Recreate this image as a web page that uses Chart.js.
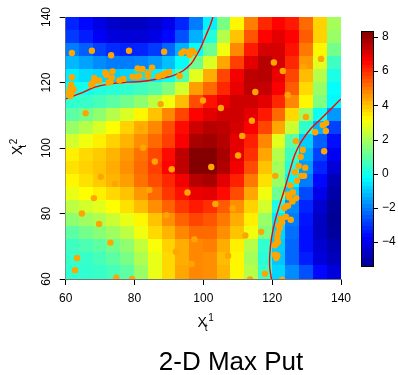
<!DOCTYPE html>
<html>
<head>
<meta charset="utf-8">
<script src="https://cdn.jsdelivr.net/npm/chart.js@4.4.0/dist/chart.umd.min.js"></script>
<style>
  html, body { margin: 0; padding: 0; background: #fff; }
  #wrap { width: 398px; height: 375px; }
</style>
</head>
<body>
<div id="wrap"><canvas id="chart" width="398" height="375"></canvas></div>
<script>
// grid cell centres (4 units wide), rows listed top to bottom
const gridX = [62, 66, 70, 74, 78, 82, 86, 90, 94, 98, 102, 106, 110, 114, 118, 122, 126, 130, 134, 138]
const gridY = [138, 134, 130, 126, 122, 118, 114, 110, 106, 102, 98, 94, 90, 86, 82, 78, 74, 70, 66, 62]

const row138 = [-3.2, -3.6, -4.1, -4.5, -4.6, -4.6, -4.4, -4.0, -3.2, -2.0, -0.4, 1.4, 3.3, 4.9, 6.1, 6.6, 6.3, 5.2, 3.8, 2.0]
const row134 = [-2.9, -3.3, -3.8, -4.2, -4.3, -4.3, -4.1, -3.6, -2.6, -1.3, 0.2, 2.2, 4.0, 5.5, 6.6, 7.0, 6.6, 5.4, 3.8, 1.8]
const row130 = [-2.0, -2.4, -2.8, -3.1, -3.2, -3.2, -2.9, -2.3, -1.3, -0.2, 1.2, 3.0, 4.8, 6.3, 7.2, 7.2, 6.4, 5.0, 3.3, 1.3]
const row126 = [-1.2, -1.5, -1.8, -2.0, -2.0, -1.9, -1.6, -1.1, -0.2, 1.2, 2.7, 4.4, 5.8, 7.0, 7.6, 7.2, 6.1, 4.6, 2.8, 0.6]
const row122 = [-0.5, -0.7, -0.8, -0.9, -0.8, -0.6, -0.4, -0.1, 0.8, 2.8, 4.3, 5.7, 6.8, 7.5, 7.6, 6.9, 5.7, 4.1, 2.2, 0.1]
const row118 = [-0.1, 0.0, 0.2, 0.3, 0.4, 0.6, 0.9, 1.5, 2.6, 4.5, 5.2, 6.1, 6.9, 7.5, 7.4, 6.7, 5.4, 3.7, 1.8, -0.2]
const row114 = [0.4, 0.5, 0.7, 1.0, 1.3, 1.7, 2.3, 3.0, 4.1, 5.6, 6.4, 6.9, 7.3, 7.3, 7.0, 6.1, 4.8, 3.3, 1.5, -0.3]
const row110 = [1.0, 1.3, 1.7, 2.2, 2.7, 3.3, 4.0, 4.8, 5.7, 6.6, 7.0, 7.3, 7.3, 7.0, 6.3, 5.2, 3.7, 1.8, -0.1, -1.6]
const row106 = [1.8, 2.2, 2.7, 3.2, 3.8, 4.3, 4.8, 5.6, 6.5, 7.3, 7.6, 7.5, 7.2, 6.7, 5.7, 4.4, 2.5, 0.4, -1.3, -2.8]
const row102 = [2.6, 3.0, 3.4, 3.8, 4.2, 4.7, 5.2, 5.8, 6.7, 7.8, 7.9, 7.6, 7.0, 6.2, 4.8, 2.8, 1.0, -0.9, -2.4, -3.5]
const row98 = [3.4, 3.7, 3.9, 4.2, 4.6, 5.1, 5.7, 6.5, 7.5, 8.3, 8.3, 7.8, 7.0, 6.0, 4.4, 2.2, 0.6, -1.3, -2.8, -3.8]
const row94 = [3.6, 3.8, 4.0, 4.3, 4.7, 5.2, 5.8, 6.6, 7.5, 8.3, 8.3, 7.7, 6.8, 5.6, 4.0, 2.0, 0.2, -1.6, -3.2, -4.3]
const row90 = [3.3, 3.6, 3.9, 4.2, 4.5, 5.1, 5.6, 6.1, 6.8, 7.6, 7.8, 7.0, 6.2, 5.0, 3.6, 1.8, -0.3, -2.0, -3.6, -4.8]
const row86 = [2.9, 3.2, 3.4, 3.7, 4.0, 4.6, 5.2, 5.9, 6.4, 6.9, 7.0, 6.5, 5.6, 4.4, 3.0, 1.2, -1.0, -2.7, -4.0, -5.0]
const row82 = [2.3, 2.6, 2.8, 3.2, 3.6, 4.1, 4.7, 5.3, 5.9, 6.3, 6.0, 5.4, 4.7, 3.8, 2.6, 0.1, -1.8, -3.2, -4.4, -5.2]
const row78 = [1.7, 1.9, 2.1, 2.5, 2.9, 3.3, 4.0, 4.7, 5.3, 5.7, 5.5, 5.0, 4.3, 3.4, 1.8, -0.5, -2.0, -3.4, -4.6, -5.3]
const row74 = [1.0, 1.3, 1.6, 1.9, 2.3, 3.0, 3.7, 4.2, 4.8, 5.2, 5.2, 4.7, 4.0, 3.0, 1.5, -0.8, -2.2, -3.5, -4.6, -5.2]
const row70 = [0.6, 0.8, 1.0, 1.3, 1.7, 2.4, 3.1, 3.8, 4.3, 4.8, 4.9, 4.3, 3.4, 2.2, 0.4, -0.9, -2.3, -3.5, -4.4, -4.9]
const row66 = [0.5, 0.5, 0.7, 1.0, 1.4, 2.1, 2.9, 3.7, 4.3, 4.8, 4.7, 4.1, 3.3, 2.0, 0.3, -1.0, -2.3, -3.3, -4.2, -4.7]
const row62 = [0.4, 0.4, 0.5, 0.7, 1.0, 1.8, 2.9, 3.7, 4.4, 4.8, 4.7, 4.2, 3.3, 2.2, 0.5, -0.8, -1.8, -2.6, -3.6, -4.2]
const fieldRows = [row138, row134, row130, row126, row122, row118, row114, row110, row106, row102,
                   row98, row94, row90, row86, row82, row78, row74, row70, row66, row62]

// simulated paths (orange dots)
const obsX = [61.8, 67.6, 73.2, 78.4, 88.6, 93.6, 94.3, 95.8, 96.8, 96.0, 97.2,
  61.8, 61.6, 61.3, 61.1, 61.8, 62.3, 60.9, 61.6, 61.3,
  67.4, 67.8, 68.3, 68.6, 69.7, 71.5, 71.9, 73.6, 73.4, 72.4, 73.0, 75.6, 76.8, 79.4, 80.9, 82.3, 80.8, 81.5, 83.9, 85.1, 83.9, 86.8, 87.4, 88.2, 88.9, 90.1, 93.1,
  87.6, 65.8, 81.8, 82.5, 85.9, 90.8, 70.2, 74.3, 84.3, 95.4, 68.2, 64.7, 89.3, 69.7, 73.0, 92.0, 97.4, 63.3, 62.7, 96.6, 74.7, 79.3,
  120.5, 123.1, 129.1, 134.2, 115.1, 124.5, 99.9, 105.1, 114.1, 129.8, 111.3, 110.1, 102.3,
  134.7, 135.7, 135.6, 132.5, 126.9, 135.1, 128.9, 128.3, 127.7, 129.6, 126.6, 128.5, 129.3, 120.9, 127.2, 125.3, 126.0, 124.6, 125.0, 127.0,
  125.9, 124.1, 124.6, 123.5, 124.0, 125.4, 122.5, 122.9, 121.9, 122.2, 121.7, 121.5, 121.3, 121.7, 120.8, 120.8, 121.5, 121.2, 117.9, 122.9,
  103.5, 108.5, 112.2, 116.8, 107.2, 113.6]
const obsY = [129.0, 129.7, 128.3, 129.7, 129.4, 128.9, 129.5, 129.4, 129.7, 128.4, 129.2,
  121.6, 119.3, 118.2, 117.2, 117.5, 117.9, 116.4, 116.7, 115.9,
  119.4, 119.8, 121.4, 120.6, 120.6, 123.0, 122.3, 123.4, 121.5, 120.0, 120.2, 120.7, 121.1, 121.8, 124.3, 124.1, 121.8, 122.0, 122.8, 124.5, 121.9, 121.8, 122.1, 122.3, 122.8, 123.2, 122.0,
  113.4, 110.6, 106.0, 100.1, 95.9, 93.5, 91.2, 89.1, 87.2, 86.4, 84.7, 80.0, 79.5, 76.8, 71.1, 68.3, 72.1, 66.4, 62.7, 64.6, 60.4, 60.0,
  126.1, 123.5, 124.8, 127.2, 117.1, 116.2, 114.5, 112.2, 108.3, 109.5, 103.7, 97.7, 94.2,
  107.0, 107.6, 105.2, 104.8, 102.1, 99.0, 99.4, 97.3, 94.5, 94.0, 92.6, 91.5, 91.5, 91.5, 90.0, 88.6, 86.5, 85.8, 84.9, 84.7,
  83.7, 82.2, 82.4, 81.7, 79.0, 78.1, 78.4, 77.3, 76.3, 75.6, 74.0, 72.5, 71.0, 71.3, 70.3, 67.4, 67.2, 66.4, 61.6, 59.8,
  82.9, 81.6, 73.3, 74.4, 67.1, 59.9]

// exercise boundary (red lines)
const upperCurveX = [60, 62.5, 65, 68.5, 73, 78, 82, 87.5, 91, 94, 96.5, 98, 99.3, 100.8, 102, 102.8]
const upperCurveY = [115.0, 116.0, 117.0, 118.6, 119.6, 120.1, 120.3, 121.2, 122.0, 123.5, 125.8, 128.3, 130.8, 134.5, 137.5, 140]
const lowerCurveX = [119.8, 119.3, 119.3, 119.8, 120.8, 122.2, 123.7, 125.1, 126.6, 128.5, 131.4, 134.0, 136.6, 140]
const lowerCurveY = [60, 63.4, 67.4, 72.5, 77.6, 82.7, 87.8, 92.9, 98, 102, 106.1, 108.7, 111.4, 115]

const xTicks = [60, 80, 100, 120, 140]
const yTicks = [60, 80, 100, 120, 140]
const barTicks = [-4, -2, 0, 2, 4, 6, 8]
const barMin = -5.4
const barMax = 8.35

const FONT = "'Liberation Sans', Arial, sans-serif"

function toPoints(xs, ys) {
  return xs.map((x, i) => ({ x: x, y: ys[i] }))
}

// tim.colors style jet palette
function jet(v) {
  let t = (v - barMin) / (barMax - barMin)
  t = Math.max(0, Math.min(1, t))
  let r, g, b
  if (t < 0.125) { r = 0; g = 0; b = 143 + 112 * t / 0.125 }
  else if (t < 0.375) { r = 0; g = 255 * (t - 0.125) / 0.25; b = 255 }
  else if (t < 0.625) { const s = (t - 0.375) / 0.25; r = 255 * s; g = 255; b = 255 * (1 - s) }
  else if (t < 0.875) { const s = (t - 0.625) / 0.25; r = 255; g = 255 * (1 - s); b = 0 }
  else { const s = (t - 0.875) / 0.125; r = 255 - 127 * s; g = 0; b = 0 }
  return `rgb(${Math.round(r)},${Math.round(g)},${Math.round(b)})`
}

// fixed box sizes so the plot area lands where the original has it
function fixSize(prop, size) {
  return s => {
    s[prop] = size
    s.paddingTop = 0
    s.paddingBottom = 0
    s.paddingLeft = 0
    s.paddingRight = 0
  }
}

const heatmap = {
  id: "heatmap",
  beforeDatasetsDraw(chart) {
    const { ctx, chartArea, scales } = chart
    const half = 2
    ctx.save()
    ctx.beginPath()
    ctx.rect(chartArea.left, chartArea.top, chartArea.right - chartArea.left, chartArea.bottom - chartArea.top)
    ctx.clip()
    fieldRows.forEach((row, i) => {
      row.forEach((v, j) => {
        const x0 = Math.floor(scales.x.getPixelForValue(gridX[j] - half))
        const x1 = Math.ceil(scales.x.getPixelForValue(gridX[j] + half))
        const y0 = Math.floor(scales.y.getPixelForValue(gridY[i] + half))
        const y1 = Math.ceil(scales.y.getPixelForValue(gridY[i] - half))
        ctx.fillStyle = jet(v)
        ctx.fillRect(x0, y0, x1 - x0, y1 - y0)
      })
    })
    ctx.restore()
  }
}

const colorbar = {
  id: "colorbar",
  afterDraw(chart) {
    const { ctx, chartArea, scales } = chart
    const bar = scales.y2
    const left = chartArea.right + 20
    const width = 12
    const steps = 64
    ctx.save()
    for (let k = 0; k < steps; k++) {
      const lo = barMin + (barMax - barMin) * k / steps
      const hi = barMin + (barMax - barMin) * (k + 1) / steps
      const yTop = Math.floor(bar.getPixelForValue(hi))
      const yBot = Math.ceil(bar.getPixelForValue(lo))
      ctx.fillStyle = jet((lo + hi) / 2)
      ctx.fillRect(left, yTop, width, yBot - yTop)
    }
    ctx.strokeStyle = "#000"
    ctx.lineWidth = 1
    const top = Math.round(bar.getPixelForValue(barMax)) + 0.5
    const bottom = Math.round(bar.getPixelForValue(barMin)) + 0.5
    ctx.strokeRect(left + 0.5, top, width, bottom - top)
    barTicks.forEach(v => {
      const py = Math.round(bar.getPixelForValue(v)) + 0.5
      ctx.beginPath()
      ctx.moveTo(left + width, py)
      ctx.lineTo(left + width + 5, py)
      ctx.stroke()
    })
    ctx.restore()
  }
}

// axis titles and caption
const labels = {
  id: "labels",
  afterDraw(chart) {
    const { ctx } = chart
    ctx.save()
    ctx.fillStyle = "#000"
    ctx.textBaseline = "alphabetic"
    ctx.textAlign = "left"

    const drawX = (x, y) => {
      ctx.font = "14px " + FONT
      ctx.fillText("X", x, y)
      const w = ctx.measureText("X").width
      ctx.font = "10px " + FONT
      return w
    }

    // x axis title
    let w = drawX(197.5, 327)
    ctx.fillText("t", 197.5 + w - 2, 331)
    ctx.fillText("1", 197.5 + w + 1.5, 320.5)

    // y axis title, rotated
    ctx.translate(22, 155)
    ctx.rotate(-Math.PI / 2)
    w = drawX(0, 0)
    ctx.fillText("t", w - 2, 3.5)
    ctx.fillText("2", w + 1.5, -5)
    ctx.setTransform(1, 0, 0, 1, 0, 0)

    // caption
    ctx.font = "26px " + FONT
    ctx.textAlign = "center"
    ctx.fillText("2-D Max Put", 231, 370)
    ctx.restore()
  }
}

const ctx = document.getElementById("chart").getContext("2d")

new Chart(ctx, {
  type: "scatter",
  data: {
    datasets: [
      {
        label: "paths",
        data: toPoints(obsX, obsY),
        pointRadius: 3.2,
        pointBackgroundColor: "#FFA500",
        pointBorderWidth: 0,
        pointHoverRadius: 3.2,
        clip: 0,
        order: 0
      },
      {
        label: "boundary upper",
        data: toPoints(upperCurveX, upperCurveY),
        showLine: true,
        borderColor: "#FF0000",
        borderWidth: 1.4,
        pointRadius: 0,
        tension: 0.4,
        clip: 0,
        order: 1
      },
      {
        label: "boundary lower",
        data: toPoints(lowerCurveX, lowerCurveY),
        showLine: true,
        borderColor: "#FF0000",
        borderWidth: 1.4,
        pointRadius: 0,
        tension: 0.4,
        clip: 0,
        order: 1
      }
    ]
  },
  plugins: [heatmap, colorbar, labels],
  options: {
    responsive: false,
    devicePixelRatio: 1,
    animation: false,
    events: [],
    layout: {
      padding: { top: 17, right: 0, bottom: 0, left: 0 }
    },
    plugins: {
      legend: { display: false },
      title: { display: false },
      tooltip: { enabled: false }
    },
    scales: {
      x: {
        type: "linear",
        position: "bottom",
        min: 60,
        max: 140,
        z: 1,
        afterFit: fixSize("height", 96),
        afterBuildTicks: s => { s.ticks = xTicks.map(v => ({ value: v })) },
        grid: { drawOnChartArea: false, drawTicks: true, tickLength: 6, color: "#000" },
        border: { display: true, color: "#777" },
        ticks: {
          font: { size: 12, family: FONT },
          color: "#000",
          padding: 6,
          maxRotation: 0
        }
      },
      y: {
        type: "linear",
        position: "left",
        min: 60,
        max: 140,
        z: 1,
        afterFit: fixSize("width", 65.7),
        afterBuildTicks: s => { s.ticks = yTicks.map(v => ({ value: v })) },
        grid: { drawOnChartArea: false, drawTicks: true, tickLength: 6, color: "#000" },
        border: { display: true, color: "#777" },
        ticks: {
          font: { size: 12, family: FONT },
          color: "#000",
          padding: 3,
          minRotation: 90,
          maxRotation: 90,
          crossAlign: "center"
        }
      },
      y2: {
        type: "linear",
        position: "right",
        min: -6.166,
        max: 9.171,
        afterFit: fixSize("width", 57),
        afterBuildTicks: s => { s.ticks = barTicks.map(v => ({ value: v })) },
        grid: { display: false, drawTicks: false },
        border: { display: false },
        ticks: {
          font: { size: 12, family: FONT },
          color: "#000",
          padding: 41,
          crossAlign: "near",
          callback: v => (v < 0 ? "\u2212" + Math.abs(v) : String(v))
        }
      }
    }
  }
})
</script>
</body>
</html>
